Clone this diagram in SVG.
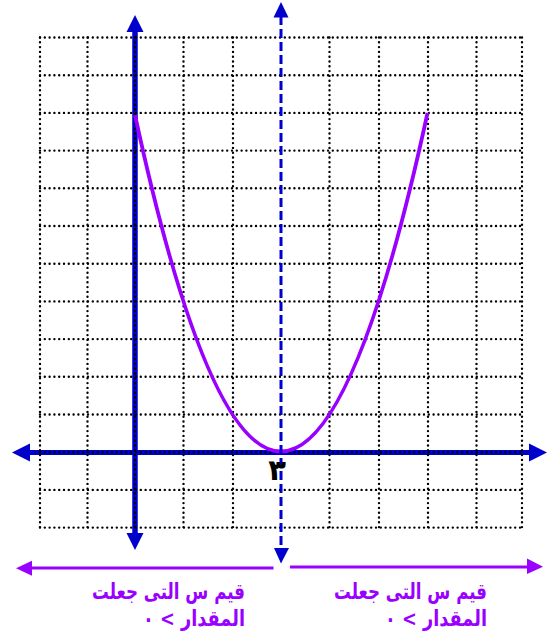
<svg xmlns="http://www.w3.org/2000/svg" width="560" height="638" viewBox="0 0 560 638">
<style>
.grid line{stroke:#000;stroke-width:2.4;stroke-linecap:round;stroke-dasharray:0 4.8}
.axis{stroke:#0000CC;stroke-width:5.5;fill:none}
.head{fill:#0000CC}
.dash{stroke:#0000CC;stroke-width:3;stroke-dasharray:9 4;fill:none}
.pl{stroke:#9900FF;stroke-width:3;fill:none}
.crv{stroke:#9900FF;stroke-width:3.8;fill:none}
.ph{fill:#9900FF}
.lbl{font-family:"DejaVu Sans","Noto Sans",sans-serif;font-weight:bold;font-size:22px;fill:#9900FF}
</style>
<rect width="560" height="638" fill="#fff"/>
<g id="axes">
<line class="axis" x1="135" y1="30" x2="135" y2="535"/>
<polygon class="head" points="135,15 126.5,32 143.5,32"/>
<polygon class="head" points="135,550 126.5,533 143.5,533"/>
<line class="axis" x1="28" y1="452.5" x2="531" y2="452.5" style="stroke-width:5"/>
<polygon class="head" points="12,452.5 30,443.5 30,461.5"/>
<polygon class="head" points="547,452.5 529,443.5 529,461.5"/>
</g>
<g class="grid" id="grid">
<line x1="40" y1="37.5" x2="522" y2="37.5"/>
<line x1="40" y1="75.2" x2="522" y2="75.2"/>
<line x1="40" y1="112.9" x2="522" y2="112.9"/>
<line x1="40" y1="150.6" x2="522" y2="150.6"/>
<line x1="40" y1="188.3" x2="522" y2="188.3"/>
<line x1="40" y1="226" x2="522" y2="226"/>
<line x1="40" y1="263.7" x2="522" y2="263.7"/>
<line x1="40" y1="301.4" x2="522" y2="301.4"/>
<line x1="40" y1="339.1" x2="522" y2="339.1"/>
<line x1="40" y1="376.8" x2="522" y2="376.8"/>
<line x1="40" y1="414.5" x2="522" y2="414.5"/>
<line x1="40" y1="452.2" x2="522" y2="452.2"/>
<line x1="40" y1="489.9" x2="522" y2="489.9"/>
<line x1="40" y1="527.6" x2="522" y2="527.6"/>
<line x1="40" y1="37.5" x2="40" y2="527.6"/>
<line x1="87.5" y1="37.5" x2="87.5" y2="527.6"/>
<line x1="135" y1="37.5" x2="135" y2="527.6"/>
<line x1="183.5" y1="37.5" x2="183.5" y2="527.6"/>
<line x1="233" y1="37.5" x2="233" y2="527.6"/>
<line x1="329.5" y1="37.5" x2="329.5" y2="527.6"/>
<line x1="379" y1="37.5" x2="379" y2="527.6"/>
<line x1="428" y1="37.5" x2="428" y2="527.6"/>
<line x1="476.5" y1="37.5" x2="476.5" y2="527.6"/>
<line x1="522" y1="37.5" x2="522" y2="527.6"/>
</g>
<g id="curve">
<path class="crv" d="M135,115 Q281,789 427.5,113"/>
</g>
<g id="connectors">
<line class="dash" x1="281" y1="16" x2="281" y2="549"/>
<polygon class="head" points="281,2 273.5,17.5 288.5,17.5"/>
<polygon class="head" points="281,563.5 274,548 289,548"/>
<line class="pl" x1="30" y1="568" x2="273.5" y2="568"/>
<polygon class="ph" points="16,568.3 32,560.7 32,575.7"/>
<line class="pl" x1="290" y1="567" x2="529" y2="567"/>
<polygon class="ph" points="543,566.7 527,558.5 527,574"/>
</g>
<g id="label3">
<text x="277" y="480" text-anchor="middle" font-family="'DejaVu Sans',sans-serif" font-weight="bold" font-size="29" fill="#000">٣</text>
</g>
<g id="left-label">
<text class="lbl" x="245" y="599" text-anchor="end" textLength="153" lengthAdjust="spacingAndGlyphs">قيم س التى جعلت</text>
<text class="lbl" x="245" y="626" text-anchor="end" textLength="102" lengthAdjust="spacingAndGlyphs">المقدار &gt; ٠</text>
</g>
<g id="right-label">
<text class="lbl" x="487" y="599" text-anchor="end" textLength="153" lengthAdjust="spacingAndGlyphs">قيم س التى جعلت</text>
<text class="lbl" x="487" y="626" text-anchor="end" textLength="102" lengthAdjust="spacingAndGlyphs">المقدار &gt; ٠</text>
</g>
</svg>
